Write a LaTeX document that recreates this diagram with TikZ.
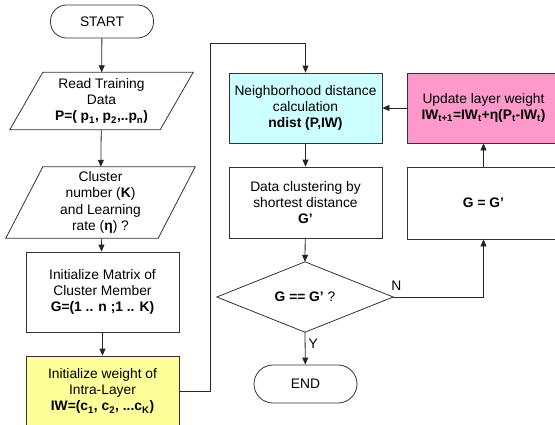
\documentclass[tikz,border=0pt]{standalone}
\usepackage{fontspec}
\setmainfont{Liberation Sans}
\usetikzlibrary{arrows.meta,calc}
\definecolor{cyanbox}{HTML}{CCFFFF}
\definecolor{pinkbox}{HTML}{FF99CC}
\definecolor{yellowbox}{HTML}{FFFF99}
\newcommand\lo[1]{\textsubscript{#1}}
\tikzset{
  x=1pt,y=1pt,
  every node/.style={font=\fontsize{13.8}{16.3}\selectfont, align=center, inner sep=1pt},
  procbox/.style={draw=black!80, line width=0.8pt, minimum width=153pt},
  termbox/.style={draw=black!80, line width=0.8pt, rounded corners=16pt},
  ghost/.style={draw=none},
  shapeline/.style={draw=black!80, line width=0.8pt},
  conn/.style={draw=black!85, line width=0.8pt, -{Triangle[length=7pt,width=6pt]}},
  plain/.style={draw=black!85, line width=0.8pt},
}
\begin{document}
\begin{tikzpicture}
\useasboundingbox (0,0) rectangle (555,-424);
% left column
\node[termbox, minimum width=103pt, minimum height=33pt] (start) at (102,-21.5) {START};
\node[ghost, minimum width=183pt, minimum height=57pt] (read) at (101.5,-101) {Read Training\\Data\\\textbf{P=( p\lo{1}, p\lo{2},..p\lo{n})}};
\draw[shapeline] ([xshift=33pt]read.north west) -- (read.north east) -- ([xshift=-33pt]read.south east) -- (read.south west) -- cycle;
\node[ghost, minimum width=189pt, minimum height=71pt] (param) at (100.5,-202.5) {Cluster\\number (\textbf{K})\\and Learning\\rate (\textbf{η}) ?};
\draw[shapeline] ([xshift=37pt]param.north west) -- (param.north east) -- ([xshift=-37pt]param.south east) -- (param.south west) -- cycle;
\node[procbox, minimum height=80pt] (initm) at (102.5,-292) {Initialize Matrix of\\Cluster Member\\\textbf{G=(1 .. n ;1 .. K)}};
\node[procbox, fill=yellowbox, minimum height=70pt] (initw) at (102.5,-391) {Initialize weight of\\Intra-Layer\\\textbf{IW=(c\lo{1}, c\lo{2}, ...c\lo{K})}};
% middle column
\node[procbox, fill=cyanbox, minimum height=70pt] (ndist) at (305.5,-108) {Neighborhood distance\\calculation\\\textbf{ndist (P,IW)}};
\node[procbox, minimum height=71pt] (clust) at (305.5,-202.5) {Data clustering by\\shortest distance\\\textbf{G'}};
\node[ghost, minimum width=176pt, minimum height=70pt] (dec) at (305,-297) {\textbf{G == G'} ?};
\draw[shapeline] (dec.north) -- (dec.east) -- (dec.south) -- (dec.west) -- cycle;
\node[termbox, minimum width=103pt, minimum height=38pt, rounded corners=19pt] (fin) at (305.5,-384) {END};
% right column
\node[procbox, fill=pinkbox, minimum height=70pt] (upd) at (483.5,-108) {Update layer weight\\\textbf{IW\lo{t+1}=IW\lo{t}+η(P\lo{t}-IW\lo{t})}};
\node[procbox, minimum height=72pt] (assign) at (483.5,-203) {\textbf{G = G'}};
% connectors
\draw[conn] (start) -- (read);
\draw[conn] (read) -- (param);
\draw[conn] (param) -- (initm);
\draw[conn] (initm) -- (initw);
\coordinate (la) at (210,-43);
\draw[conn] (initw.east) -| (la) -| (ndist.north);
\draw[conn] (ndist) -- (clust);
\draw[conn] (clust) -- (dec.north);
\draw[conn] (dec.south) -- node[pos=0.35, right=2pt] {Y} (fin);
\draw[conn] (dec.east) -| (assign.south);
\node[anchor=south west, inner sep=0pt] (nlab) at ([xshift=-2pt,yshift=6pt]dec.east) {N};
\draw[conn] (assign) -- (upd);
\draw[conn] (upd) -- (ndist);
\end{tikzpicture}
\end{document}
